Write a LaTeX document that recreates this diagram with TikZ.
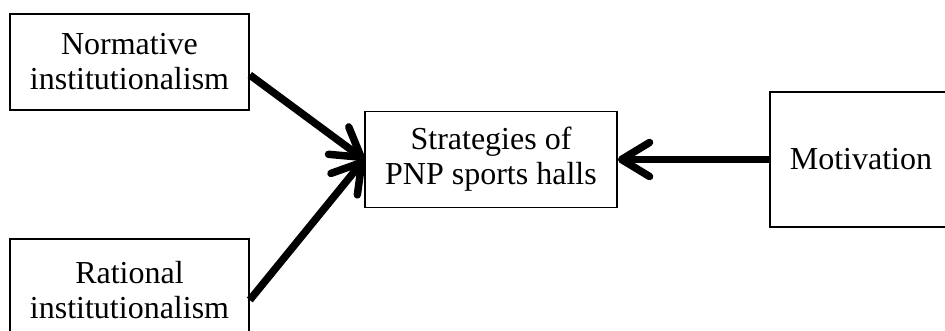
\documentclass[tikz,border=0pt]{standalone}
\usepackage{fontspec}
\setmainfont{Liberation Serif}
\usetikzlibrary{arrows.meta}

\begin{document}
\begin{tikzpicture}[x=1pt,y=1pt]
\tikzstyle{box}=[rectangle, draw, line width=1.6pt, align=center, inner sep=0pt, font=\fontsize{32}{35}\selectfont]
\tikzstyle{link}=[line width=7.5pt, -{Straight Barb[length=28pt, width=34pt, round]}]

\clip (0,0) rectangle (945,331);

\node[box, minimum width=239pt, minimum height=96pt] (norm) at (129.5,269) {Normative\\institutionalism};
\node[box, minimum width=239pt, minimum height=102pt] (rat) at (129.5,41) {Rational\\institutionalism};
\node[box, minimum width=252pt, minimum height=96pt] (strat) at (491,171.5) {Strategies of\\PNP sports halls};
\node[box, minimum width=182pt, minimum height=135pt] (motiv) at (861,171.5) {Motivation};

\draw[link] ([yshift=-13pt]norm.east) -- (strat.west);
\draw[link] ([yshift=-10pt]rat.east) -- (strat.west);
\draw[link] (motiv.west) -- (strat.east);
\end{tikzpicture}
\end{document}
